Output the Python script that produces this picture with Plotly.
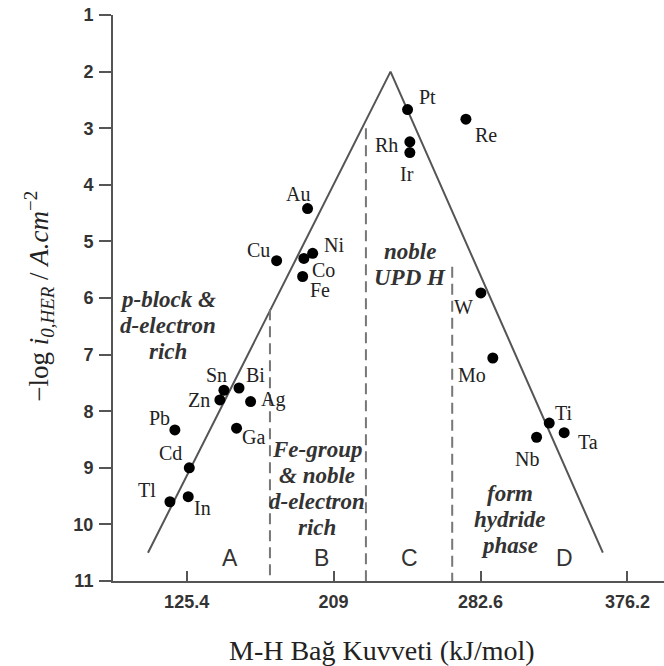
import plotly.graph_objects as go

# ---- data ----
elements = ["Pt", "Re", "Rh", "Ir", "Au", "Cu", "Ni", "Co", "Fe", "Sn", "Zn", "Bi",
            "Ag", "Ga", "Pb", "Cd", "Tl", "In", "W", "Mo", "Ti", "Ta", "Nb"]
bond_kj = [251.1, 284.3, 252.4, 252.4, 194.2, 176.6, 197.1, 192.1, 191.4, 146.6, 144.3, 155.2,
           161.8, 153.8, 118.7, 126.9, 115.9, 126.3, 292.8, 299.6, 331.7, 340.2, 324.5]
log_i0 = [2.67, 2.84, 3.24, 3.43, 4.42, 5.34, 5.21, 5.30, 5.62, 7.63, 7.80, 7.59,
          7.83, 8.30, 8.33, 9.00, 9.60, 9.51, 5.91, 7.06, 8.21, 8.38, 8.46]

# volcano (triangle) envelope
volcano_x = [103.4, 241.4, 362.2]
volcano_y = [10.5, 2.0, 10.5]

# region boundaries (dashed)
boundary_x = [172.8, 227.4, 276.5]
boundary_top = [6.2, 3.0, 5.45]

# axis ticks
x_tickvals = [125.4, 209, 292.6, 376.2]
x_ticktext = ["125.4", "209", "282.6", "376.2"]
y_tickvals = list(range(1, 12))

# region labels
region_letters = ["A", "B", "C", "D"]
region_letter_x = [150.1, 202.2, 252.4, 340.6]
region_texts = [["p-block &", "d-electron", "rich"],
                ["Fe-group", "& noble", "d-electron", "rich"],
                ["noble", "UPD H"],
                ["form", "hydride", "phase"]]
region_text_x = [114.8, 199.5, 252.4, 309.2]
region_text_y = [6.49, 9.37, 5.40, 9.92]

# label pixel offsets (style)
label_offsets = {
    "Pt": (20, -13), "Re": (20, 16), "Rh": (-23, 3), "Ir": (-3, 21), "Au": (-10, -15),
    "Cu": (-18, -11), "Ni": (21, -8), "Co": (20, 12), "Fe": (17, 14), "Sn": (-7, -15),
    "Zn": (-21, 0), "Bi": (16, -13), "Ag": (22, -2), "Ga": (17, 9), "Pb": (-15, -12),
    "Cd": (-19, -15), "Tl": (-23, -12), "In": (14, 11), "W": (-17, 14), "Mo": (-21, 17),
    "Ti": (15, -10), "Ta": (24, 9), "Nb": (-10, 22),
}

serif = "Liberation Serif, Times New Roman, serif"
sans = "Liberation Sans, Arial, sans-serif"

fig = go.Figure()

fig.add_trace(go.Scatter(x=volcano_x, y=volcano_y, mode="lines",
                         line=dict(color="#555555", width=2), hoverinfo="skip", showlegend=False))

for bx, bt in zip(boundary_x, boundary_top):
    fig.add_trace(go.Scatter(x=[bx, bx], y=[bt, 11], mode="lines",
                             line=dict(color="#777777", width=2, dash="11px,6px"),
                             hoverinfo="skip", showlegend=False))

fig.add_trace(go.Scatter(x=bond_kj, y=log_i0, mode="markers", text=elements,
                         marker=dict(color="black", size=11), showlegend=False))

annotations = []
for el, xv, yv in zip(elements, bond_kj, log_i0):
    dx, dy = label_offsets[el]
    annotations.append(dict(x=xv, y=yv, xref="x", yref="y", text=el, showarrow=False,
                            xshift=dx, yshift=-dy,
                            font=dict(family=serif, size=20, color="#222222")))

line_gap = 26
for lines, xv, yv in zip(region_texts, region_text_x, region_text_y):
    mid = (len(lines) - 1) / 2
    for i, t in enumerate(lines):
        annotations.append(dict(x=xv, y=yv, xref="x", yref="y", text="<b><i>" + t + "</i></b>",
                                showarrow=False, yshift=(mid - i) * line_gap,
                                font=dict(family=serif, size=23, color="#333333")))

for t, xv in zip(region_letters, region_letter_x):
    annotations.append(dict(x=xv, y=10.59, xref="x", yref="y", text=t, showarrow=False,
                            font=dict(family=sans, size=23, color="#333333")))

annotations.append(dict(x=-0.135, y=0.5035, xref="paper", yref="paper", textangle=-90,
                        xanchor="center", yanchor="middle",
                        text="−log <i>i</i><sub><i>0,HER</i></sub> / <i>A.cm</i><sup>−2</sup>",
                        showarrow=False, font=dict(family=serif, size=27, color="#222222")))
annotations.append(dict(x=0.4875, y=-0.122, xref="paper", yref="paper",
                        xanchor="center", yanchor="middle",
                        text="M-H Bağ Kuvveti (kJ/mol)", showarrow=False,
                        font=dict(family=serif, size=28, color="#222222")))

fig.update_layout(
    width=664, height=666,
    margin=dict(l=113, r=0, t=15, b=85),
    paper_bgcolor="white", plot_bgcolor="white",
    annotations=annotations,
    xaxis=dict(range=[83.5, 397], tickvals=x_tickvals, ticktext=x_ticktext,
               ticks="inside", ticklen=10, tickwidth=2, tickcolor="#555555",
               showline=True, linecolor="#555555", linewidth=2, showgrid=False, zeroline=False,
               ticklabelstandoff=3,
               tickfont=dict(family=sans, size=18, color="#333333", weight="bold")),
    yaxis=dict(range=[11, 1], tickvals=y_tickvals,
               ticks="outside", ticklen=12, tickwidth=2, tickcolor="#555555",
               showline=True, linecolor="#555555", linewidth=2, showgrid=False, zeroline=False,
               ticklabelstandoff=2,
               tickfont=dict(family=sans, size=18, color="#333333", weight="bold")),
)

fig.write_html("out.html")
